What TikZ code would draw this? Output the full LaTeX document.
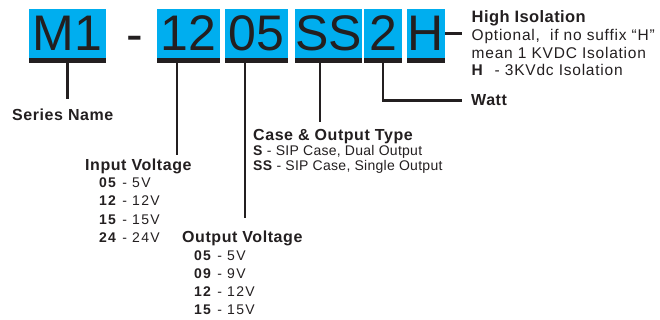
\documentclass[tikz,border=0pt]{standalone}
\usepackage{fontspec}
\setmainfont{Liberation Sans}
\definecolor{partcyan}{HTML}{00AEEF}
\definecolor{partink}{HTML}{231F20}
\begin{document}
\begin{tikzpicture}[x=1pt, y=-1pt,
	codebox/.style={fill=partcyan, text=partink, inner sep=0pt, minimum height=49pt, font=\fontsize{50}{50}\selectfont},
	codebar/.style={fill=partink, inner sep=0pt, minimum height=4.5pt, anchor=north},
	lead/.style={draw=partink, line width=2.8pt},
	head/.style={anchor=base west, inner sep=0pt, text=partink, font=\fontsize{16}{16}\selectfont\bfseries\addfontfeature{LetterSpace=3.5}},
	item/.style={anchor=base west, inner sep=0pt, text=partink, font=\fontsize{14}{14}\selectfont\addfontfeature{LetterSpace=2}},
	value/.style={item, font=\fontsize{14}{14}\selectfont\addfontfeature{LetterSpace=9}},
	note/.style={anchor=base west, inner sep=0pt, text=partink, font=\fontsize{15.5}{15.5}\selectfont\addfontfeature{LetterSpace=5}}]
	\useasboundingbox (0,0) rectangle (660,320);

	% the part number
	\node[codebox, minimum width=77pt] (m1) at (67.5,33.5) {M1};
	\node[codebar, minimum width=77pt] (m1bar) at (m1.south) {};
	\node[anchor=base, inner sep=0pt, text=partink, font=\fontsize{50}{50}\selectfont] (dash) at (135,52) {-};
	\node[codebox, minimum width=63pt] (b12) at (188.5,33.5) {12};
	\node[codebar, minimum width=63pt] (b12bar) at (b12.south) {};
	\node[codebox, minimum width=63pt] (b05) at (256.5,33.5) {05};
	\node[codebar, minimum width=63pt] (b05bar) at (b05.south) {};
	\node[codebox, minimum width=67pt] (bss) at (328.5,33.5) {SS};
	\node[codebar, minimum width=67pt] (bssbar) at (bss.south) {};
	\node[codebox, minimum width=38pt] (b2) at (383,33.5) {2};
	\node[codebar, minimum width=38pt] (b2bar) at (b2.south) {};
	\node[codebox, minimum width=38pt] (bh) at (426,33.5) {H};
	\node[codebar, minimum width=38pt] (bhbar) at (bh.south) {};

	% series
	\node[head] (series) at (12,121) {Series Name};

	% input voltage
	\node[head] (inhead) at (85,171) {Input Voltage};
	\node[value] (in05) at (99,188) {\textbf{05} - 5V};
	\node[value] (in12) at (99,206) {\textbf{12} - 12V};
	\node[value] (in15) at (99,224) {\textbf{15} - 15V};
	\node[value] (in24) at (99,242.5) {\textbf{24} - 24V};

	% output voltage
	\node[head] (outhead) at (182,242.5) {Output Voltage};
	\node[value] (out05) at (194,260) {\textbf{05} - 5V};
	\node[value] (out09) at (194,278) {\textbf{09} - 9V};
	\node[value] (out12) at (194,296) {\textbf{12} - 12V};
	\node[value] (out15) at (194,314) {\textbf{15} - 15V};

	% case
	\node[head] (casehead) at (253,140.5) {Case \& Output Type};
	\node[item] (cases) at (253,156) {\textbf{S} - SIP Case, Dual Output};
	\node[item] (casess) at (253,170.5) {\textbf{SS} - SIP Case, Single Output};

	% watt and isolation
	\node[head] (watt) at (471,106) {Watt};
	\node[head, font=\fontsize{16.5}{16.5}\selectfont\bfseries\addfontfeature{LetterSpace=2.5}] (hihead) at (471.5,22.7) {High Isolation};
	\node[note] (hiopt) at (471.5,40.7) {Optional,\ \ if no suffix “H”};
	\node[note] (himean) at (471.5,58.3) {mean 1 KVDC Isolation};
	\node[note] (hithree) at (471.5,76) {\textbf{H}\hspace{11pt}- 3KVdc Isolation};

	\draw[lead] (m1bar.south) -- ([yshift=10pt]m1bar.south |- series.north);
	\draw[lead] ([xshift=-11.5pt]b12bar.south) -- ([xshift=-11.5pt, yshift=4pt]b12bar.south |- inhead.north);
	\draw[lead] ([xshift=-11.5pt]b05bar.south) -- ([xshift=-11.5pt, yshift=12.8pt]b05bar.south |- outhead.north);
	\draw[lead] ([xshift=-8.5pt]bssbar.south) -- ([xshift=-8.5pt, yshift=6.8pt]bssbar.south |- casehead.north);
	\draw[lead] (b2bar.south) |- ([xshift=-9pt]watt.west);
	\draw[lead] (bh.east) -- ([xshift=-10pt]bh.east -| hihead.west);
\end{tikzpicture}
\end{document}
